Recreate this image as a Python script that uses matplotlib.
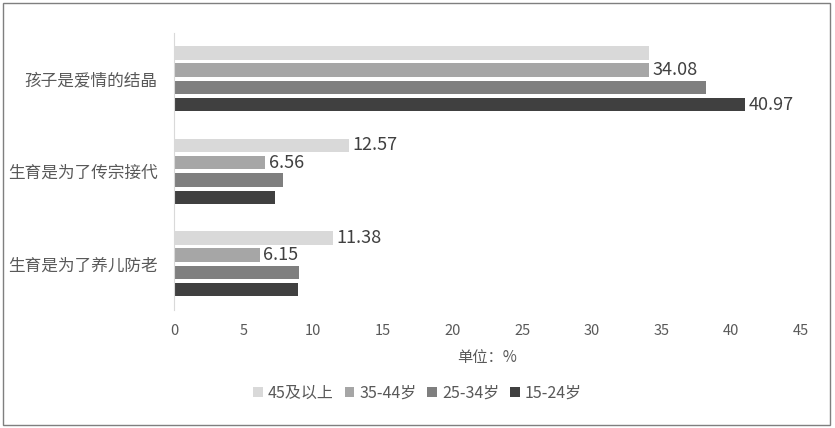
import matplotlib
matplotlib.use('Agg')
import matplotlib.pyplot as plt
from matplotlib.patches import Rectangle
import numpy as np

plt.rcParams['font.family'] = ['Noto Sans CJK SC', 'DejaVu Sans']

categories = ['孩子是爱情的结晶', '生育是为了传宗接代', '生育是为了养儿防老']
series_names = ['45及以上', '35-44岁', '25-34岁', '15-24岁']
values = {
    '45及以上': [34.1, 12.57, 11.38],
    '35-44岁': [34.08, 6.56, 6.15],
    '25-34岁': [38.2, 7.85, 8.95],
    '15-24岁': [40.97, 7.25, 8.9],
}
# only some bars carry a data label in the original
labels = {
    '45及以上': [None, '12.57', '11.38'],
    '35-44岁': ['34.08', '6.56', '6.15'],
    '25-34岁': [None, None, None],
    '15-24岁': ['40.97', None, None],
}
colors = ['#d9d9d9', '#a6a6a6', '#7f7f7f', '#404040']
text_color = '#595959'

fig = plt.figure(figsize=(8.35, 4.28), dpi=100)
ax = fig.add_axes([0.2084, 0.2757, 0.7509, 0.6483])

centers = np.arange(len(categories))
step = 0.187
height = 0.145
for i, name in enumerate(series_names):
    pos = centers + (i - 1.5) * step
    ax.barh(pos, values[name], height=height, color=colors[i], label=name)
    for p, v, lab in zip(pos, values[name], labels[name]):
        if lab:
            ax.text(v + 0.25, p, lab, va='center', ha='left', fontsize=13, color='#404040')

ax.set_ylim(2.5, -0.5)
ax.set_xlim(0, 45)
ax.set_xticks(range(0, 46, 5))
ax.set_yticks(centers)
ax.set_yticklabels(categories, fontsize=12)
ax.tick_params(axis='both', length=0, colors=text_color)
ax.tick_params(axis='x', pad=10, labelsize=10.5)
ax.tick_params(axis='y', pad=12)
for s in ['top', 'right', 'bottom']:
    ax.spines[s].set_visible(False)
ax.spines['left'].set_color('#d9d9d9')
ax.set_xlabel('单位：%', color=text_color, fontsize=11, labelpad=8)

leg = ax.legend(loc='center', bbox_to_anchor=(0.5, 0.082), bbox_transform=fig.transFigure,
                ncol=4, frameon=False, fontsize=11.5, labelcolor=text_color,
                handlelength=0.6, handleheight=0.6, handletextpad=0.3, columnspacing=0.7)

fig.add_artist(Rectangle((0.004, 0.007), 0.99, 0.985, transform=fig.transFigure,
                         fill=False, edgecolor='#7f7f7f', linewidth=1))

fig.savefig('out.png', dpi=100)
